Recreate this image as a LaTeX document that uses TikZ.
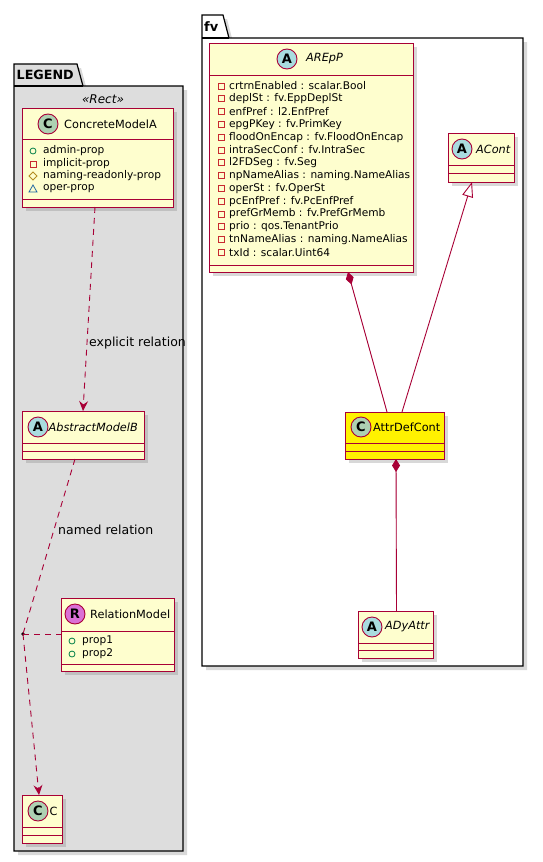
\documentclass[tikz,border=0pt]{standalone}
\usepackage{fontspec}
\setmainfont{DejaVu Sans}
\usetikzlibrary{arrows.meta,shadows,calc}
\definecolor{umlred}{HTML}{A80036}
\definecolor{umlbg}{HTML}{FEFECE}
\definecolor{pkggray}{HTML}{DDDDDD}
\definecolor{circC}{HTML}{ADD1B2}
\definecolor{circA}{HTML}{A9DCDF}
\definecolor{circR}{HTML}{DA70D6}
\definecolor{icgreen}{HTML}{038048}
\definecolor{icred}{HTML}{C82930}
\definecolor{icgold}{HTML}{B38D22}
\definecolor{icblue}{HTML}{1963A0}
\tikzset{
 shad/.style={drop shadow={shadow xshift=4pt,shadow yshift=-4pt,opacity=0.3}},
 classbox/.style={draw=umlred, line width=1pt, fill=umlbg, shad, anchor=north west, inner sep=0pt, outer sep=0pt},
 cline/.style={draw=umlred, line width=1pt},
 spot/.style={circle, draw=umlred, line width=0.9pt, minimum size=20pt, inner sep=0pt, font=\fontsize{13}{13}\bfseries},
 cname/.style={anchor=west, inner sep=0pt, font=\fontsize{11.3}{13}\selectfont},
 aname/.style={anchor=west, inner sep=0pt, font=\fontsize{11.3}{13}\itshape},
 attr/.style={anchor=west, inner sep=0pt, font=\fontsize{10.6}{12}\selectfont},
 pkg/.style={draw=black, line width=1.2pt},
 rel/.style={draw=umlred, line width=0.9pt},
 dep/.style={rel, dash pattern=on 6pt off 5pt},
 lbl/.style={anchor=west, inner sep=0pt, font=\fontsize{12.5}{14}\selectfont},
 deptip/.style={-{Stealth[length=10pt,width=9pt,inset=3.5pt]}},
 comptip/.style={{Diamond[length=13pt,width=8pt]}-},
 inhtip/.style={-{Triangle[open,length=15pt,width=11pt,fill=white]}},
}
\newcommand\icpub[2]{\draw[icgreen, line width=0.8pt] (#1,#2) circle (3pt);}
\newcommand\icpriv[2]{\draw[icred, line width=0.8pt] (#1,#2) ++(-3,-3) rectangle ++(6,6);}
\newcommand\icprot[2]{\draw[icgold, line width=0.8pt] (#1,#2) ++(-4,0) -- ++(4,-4) -- ++(4,4) -- ++(-4,4) -- cycle;}
\newcommand\icpack[2]{\draw[icblue, line width=0.8pt] (#1,#2) ++(-4,3) -- ++(8,0) -- ++(-4,-7) -- cycle;}
\begin{document}
\begin{tikzpicture}[x=1pt,y=-1pt]
\useasboundingbox (0,0) rectangle (543,862);

% ---------- packages ----------
\draw[pkg, fill=pkggray, shad] (14,64) -- (77,64) -- (83,86) -- (183,86) -- (183,851) -- (14,851) -- cycle;
\draw[pkg] (14,86) -- (83,86);
\node[anchor=west, inner sep=0pt, font=\fontsize{12.7}{14}\bfseries] (legendlbl) at (16.5,75) {LEGEND};

\draw[pkg, fill=white, shad] (202,15) -- (223,15) -- (229,38) -- (523,38) -- (523,666) -- (202,666) -- cycle;
\draw[pkg] (202,38) -- (229,38);
\node[anchor=west, inner sep=0pt, font=\fontsize{13}{14}\bfseries] (fvlbl) at (204,27) {fv};

% ---------- LEGEND classes ----------
\node[inner sep=0pt, font=\fontsize{12}{13}\itshape] (stereo) at (103,99) {«Rect»};

\node[classbox, minimum width=151pt, minimum height=99pt] (cma) at (22,108) {};
\draw[cline] (22,139) -- (173,139); \draw[cline] (22,199) -- (173,199);
\node[spot, fill=circC] (cmaS) at (48,124) {C};
\node[cname] (cmaN) at (64,124) {ConcreteModelA};
\icpub{33}{151} \node[attr] (cma1) at (43,151) {admin-prop};
\icpriv{33}{164} \node[attr] (cma2) at (43,164) {implicit-prop};
\icprot{33}{176} \node[attr] (cma3) at (43,176) {naming-readonly-prop};
\icpack{33}{189} \node[attr] (cma4) at (43,189) {oper-prop};

\node[classbox, minimum width=122pt, minimum height=48pt] (abs) at (22,411) {};
\draw[cline] (22,443) -- (144,443); \draw[cline] (22,451) -- (144,451);
\node[spot, fill=circA] (absS) at (38,427) {A};
\node[aname] (absN) at (48.5,427) {AbstractModelB};

\node[classbox, minimum width=113pt, minimum height=73pt] (relm) at (61,598) {};
\draw[cline] (61,631) -- (174,631); \draw[cline] (61,664) -- (174,664);
\node[spot, fill=circR] (relmS) at (75,614) {R};
\node[cname] (relmN) at (90,614) {RelationModel};
\icpub{72}{641} \node[attr] (relm1) at (82,641) {prop1};
\icpub{72}{654} \node[attr] (relm2) at (82,654) {prop2};

\node[classbox, minimum width=40pt, minimum height=48pt] (cbox) at (22,795) {};
\draw[cline] (22,827) -- (62,827); \draw[cline] (22,835) -- (62,835);
\node[spot, fill=circC] (cboxS) at (38,811) {C};
\node[cname] (cboxN) at (49.5,811) {C};

% ---------- fv classes ----------
\node[classbox, minimum width=204pt, minimum height=229pt] (arep) at (209,43) {};
\draw[cline] (209,75) -- (413,75); \draw[cline] (209,265) -- (413,265);
\node[spot, fill=circA] (arepS) at (287,59) {A};
\node[aname] (arepN) at (306,59) {AREpP};
\foreach \t [count=\i from 0] in {crtrnEnabled : scalar.Bool, deplSt : fv.EppDeplSt, enfPref : l2.EnfPref, epgPKey : fv.PrimKey, floodOnEncap : fv.FloodOnEncap, intraSecConf : fv.IntraSec, l2FDSeg : fv.Seg, npNameAlias : naming.NameAlias, operSt : fv.OperSt, pcEnfPref : fv.PcEnfPref, prefGrMemb : fv.PrefGrMemb, prio : qos.TenantPrio, tnNameAlias : naming.NameAlias, txId : scalar.Uint64}{
  \icpriv{221}{86+12.8*\i}
  \node[attr] (arepA\i) at (229,{86+12.8*\i}) {\t};
}

\node[classbox, minimum width=66pt, minimum height=49pt] (acont) at (448,133) {};
\draw[cline] (448,165) -- (514,165); \draw[cline] (448,173) -- (514,173);
\node[spot, fill=circA] (acontS) at (462,149) {A};
\node[aname] (acontN) at (476,149) {ACont};

\node[classbox, fill=yellow, minimum width=99pt, minimum height=47pt] (adc) at (345,412) {};
\draw[cline] (345,443) -- (444,443); \draw[cline] (345,451) -- (444,451);
\node[spot, fill=circC] (adcS) at (361,427) {C};
\node[cname] (adcN) at (373,427) {AttrDefCont};

\node[classbox, minimum width=75pt, minimum height=47pt] (ady) at (358,611) {};
\draw[cline] (358,643) -- (433,643); \draw[cline] (358,650) -- (433,650);
\node[spot, fill=circA] (adyS) at (372,627) {A};
\node[aname] (adyN) at (385,627) {ADyAttr};

% ---------- connectors ----------
\draw[dep, deptip] ($(cma.south)+(-2.5,0)$) -- (abs.north);
\node[lbl] (explbl) at (89,343) {explicit relation};

\fill[black] (23,634) circle (1.8pt);
\coordinate (dot) at (23,634);
\draw[dep] ($(abs.south)+(-8,0)$) -- (dot);
\draw[dep, deptip] (dot) -- ($(cbox.north)+(-3,0)$);
\draw[dep] (dot) -- (relm.west |- dot);
\node[lbl] (namlbl) at (58,530) {named relation};

\draw[rel, comptip, fill=umlred] ($(arep.south)+(37,0)$) -- ($(adc.north)+(-7.5,0)$);
\draw[rel, inhtip] ($(adc.north)+(7.5,0)$) -- ($(acont.south)+(-9,0)$);
\draw[rel, comptip, fill=umlred] ($(adc.south)+(1.5,0)$) -- ($(ady.north)+(1,0)$);
\end{tikzpicture}
\end{document}
